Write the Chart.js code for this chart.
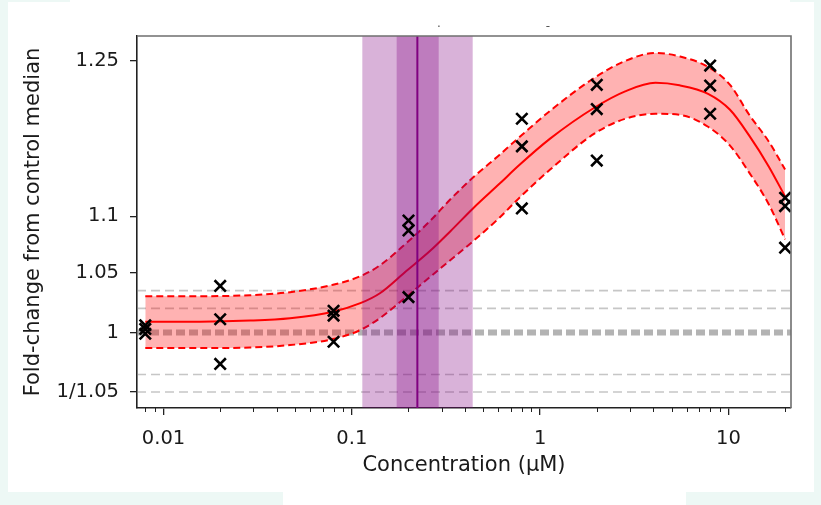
<!DOCTYPE html>
<html><head><meta charset="utf-8">
<script src="https://cdn.jsdelivr.net/npm/chart.js@4.4.1/dist/chart.umd.min.js"></script>
<style>html,body{margin:0;padding:0;background:#fff;}canvas{display:block;}</style>
</head><body>
<canvas id="c" width="821" height="505"></canvas>
<script>
// ---- data ----
const concentrations = [0.008, 0.02, 0.08, 0.2, 0.8, 2, 8, 20];
const replicateA = [1.006, 1.039, 1.018, 1.0963, 1.1917, 1.2253, 1.2448, 1.1169];
const replicateB = [1.003, 1.011, 1.014, 1.0874, 1.1650, 1.2012, 1.2246, 1.1093];
const replicateC = [0.999, 0.9746, 0.9925, 1.0295, 1.1072, 1.1515, 1.1966, 1.0721];

const fitConc  = [0.008, 0.0156, 0.0288, 0.047, 0.0795, 0.111, 0.141, 0.194, 0.259, 0.333, 0.44, 0.61, 0.77, 1.13, 1.94, 2.83, 4.1, 5.5, 7.8, 10.2, 12.9, 16.4, 20];
const fitMid   = [1.0090, 1.0090, 1.0099, 1.0119, 1.0173, 1.0244, 1.0328, 1.0516, 1.0689, 1.0865, 1.1072, 1.1300, 1.1468, 1.1724, 1.2025, 1.2188, 1.2273, 1.2248, 1.2163, 1.2005, 1.1753, 1.1458, 1.1181];
const fitUpper = [1.0303, 1.0303, 1.0311, 1.0337, 1.0400, 1.0473, 1.0567, 1.0759, 1.0955, 1.1153, 1.1356, 1.1571, 1.1733, 1.1995, 1.2323, 1.2496, 1.2578, 1.2542, 1.2435, 1.2253, 1.1956, 1.1695, 1.1430];
const fitLower = [0.9874, 0.9874, 0.9878, 0.9898, 0.9947, 1.0021, 1.0119, 1.0295, 1.0464, 1.0611, 1.0777, 1.0990, 1.1163, 1.1430, 1.1772, 1.1917, 1.1966, 1.1956, 1.1839, 1.1657, 1.1402, 1.1108, 1.0795];

const refLevels = [1.035, 1.02, 1, 1/1.035, 1/1.05];
const ec50 = 0.2229;
const ec50Inner = [0.173, 0.2893];
const ec50Outer = [0.1137, 0.4385];

const xTickValues = [0.01, 0.1, 1, 10];
const xTickLabels = ['0.01', '0.1', '1', '10'];
const yTickValues = [1/1.05, 1, 1.05, 1.1, 1.25];
const yTickLabels = ['1/1.05', '1', '1.05', '1.1', '1.25'];
const xRange = [0.00723, 21.5];
const yRange = [0.9409, 1.2754];

// ---- build datasets ----
const pts = [];
concentrations.forEach((c, i) => {
  pts.push({x: c, y: replicateA[i]}, {x: c, y: replicateB[i]}, {x: c, y: replicateC[i]});
});
const curve = arr => fitConc.map((c, i) => ({x: c, y: arr[i]}));

const datasets = [
  {type: 'scatter', data: pts, pointStyle: 'crossRot', pointRadius: 8, pointBorderWidth: 2.6,
   borderColor: '#000', backgroundColor: '#000', showLine: false},
  {type: 'line', data: curve(fitMid), borderColor: '#ff0000', borderWidth: 2, pointRadius: 0,
   cubicInterpolationMode: 'monotone', fill: false},
  {type: 'line', data: curve(fitUpper), borderColor: '#ff0000', borderWidth: 2, borderDash: [7, 4], pointRadius: 0,
   cubicInterpolationMode: 'monotone', fill: {target: 3}, backgroundColor: 'rgba(255,0,0,0.3)'},
  {type: 'line', data: curve(fitLower), borderColor: '#ff0000', borderWidth: 2, borderDash: [7, 4], pointRadius: 0,
   cubicInterpolationMode: 'monotone', fill: false}
];
refLevels.forEach(v => {
  const thick = v === 1;
  datasets.push({type: 'line', data: [{x: xRange[0], y: v}, {x: xRange[1], y: v}],
    borderColor: thick ? 'rgba(128,128,128,0.6)' : 'rgba(128,128,128,0.45)',
    borderWidth: thick ? 6 : 1.6, borderDash: thick ? [9, 4] : [9, 5], pointRadius: 0, fill: false});
});

const FONT = 'DejaVu Sans';
const TXT = '#1a1a1a';

const decorPlugin = {
  id: 'decor',
  beforeDraw(chart) {
    const c = chart.ctx;
    c.save();
    c.fillStyle = '#edf8f5';
    c.fillRect(0, 0, 821, 505);
    c.fillStyle = '#ffffff';
    c.fillRect(8, 0, 806, 492);
    c.fillRect(283, 492, 403, 13);
    c.fillStyle = '#edf8f5';
    c.fillRect(0, 0, 70, 2);
    c.fillRect(790, 0, 31, 2);
    c.restore();
  },
  beforeDatasetDraw(chart, args) {
    if (args.index !== 0) return;
    const c = chart.ctx, ca = chart.chartArea, xs = chart.scales.x;
    const px = v => xs.getPixelForValue(v);
    c.save();
    c.beginPath(); c.rect(ca.left, ca.top, ca.width, ca.height); c.clip();
    c.fillStyle = 'rgba(128,0,128,0.3)';
    c.fillRect(px(ec50Outer[0]), ca.top, px(ec50Outer[1]) - px(ec50Outer[0]), ca.height);
    c.fillRect(px(ec50Inner[0]), ca.top, px(ec50Inner[1]) - px(ec50Inner[0]), ca.height);
    c.strokeStyle = '#800080'; c.lineWidth = 2;
    c.beginPath(); c.moveTo(px(ec50), ca.top); c.lineTo(px(ec50), ca.bottom); c.stroke();
    c.restore();
  },
  afterDraw(chart) {
    const c = chart.ctx, ca = chart.chartArea, xs = chart.scales.x;
    c.save();
    // top and right spines
    c.strokeStyle = '#6f6f6f'; c.lineWidth = 1.6;
    c.beginPath();
    c.moveTo(ca.left, ca.top); c.lineTo(ca.right, ca.top); c.lineTo(ca.right, ca.bottom);
    c.stroke();
    // minor ticks on the log x axis
    c.strokeStyle = '#222'; c.lineWidth = 1;
    for (let d = 0.001; d < 100; d *= 10) {
      for (let m = 2; m <= 9; m++) {
        const v = d * m;
        if (v < xRange[0] || v > xRange[1]) continue;
        const p = Math.round(xs.getPixelForValue(v)) + 0.5;
        c.beginPath(); c.moveTo(p, ca.bottom); c.lineTo(p, ca.bottom + 4); c.stroke();
      }
    }
    // remnants of cropped title at the top edge
    c.fillStyle = '#555';
    c.font = '12px "DejaVu Sans"';
    c.textAlign = 'center'; c.textBaseline = 'middle';
    c.fillText('.', 439, 24);
    c.fillText('-', 548, 27);
    c.restore();
  }
};

new Chart(document.getElementById('c'), {
  type: 'line',
  data: {datasets},
  options: {
    responsive: false, animation: false, devicePixelRatio: 1,
    layout: {padding: {left: 0, right: 30, top: 36, bottom: 0}},
    plugins: {legend: {display: false}, tooltip: {enabled: false}},
    scales: {
      x: {
        type: 'logarithmic', min: xRange[0], max: xRange[1],
        afterBuildTicks: s => { s.ticks = xTickValues.map(v => ({value: v})); },
        afterFit: s => { s.height = 97; },
        ticks: {autoSkip: false, maxRotation: 0, padding: 12, color: TXT,
                font: {family: FONT, size: 19.5}, callback: (v, i) => xTickLabels[i]},
        grid: {drawOnChartArea: false, drawTicks: true, tickLength: 7, tickColor: '#222', lineWidth: 1.3},
        border: {display: true, color: '#222', width: 1.6},
        title: {display: true, text: 'Concentration (μM)', color: TXT,
                font: {family: FONT, size: 21}, padding: {top: 0, bottom: 27}}
      },
      y: {
        type: 'logarithmic', min: yRange[0], max: yRange[1],
        afterBuildTicks: s => { s.ticks = yTickValues.map(v => ({value: v})); },
        afterFit: s => { s.width = 137; },
        ticks: {autoSkip: false, padding: 11, color: TXT,
                font: {family: FONT, size: 19.5}, callback: (v, i) => yTickLabels[i]},
        grid: {drawOnChartArea: false, drawTicks: true, tickLength: 7, tickColor: '#222', lineWidth: 1.3},
        border: {display: true, color: '#222', width: 1.6},
        title: {display: true, text: 'Fold-change from control median', color: TXT,
                font: {family: FONT, size: 21}, padding: {top: 21, bottom: 0}}
      }
    }
  },
  plugins: [decorPlugin]
});
</script>
</body></html>
